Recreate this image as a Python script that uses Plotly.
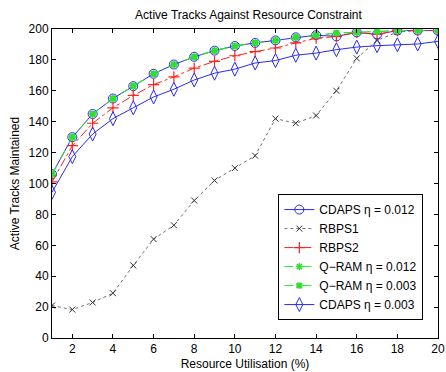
import plotly.graph_objects as go

x_vals = list(range(1, 21))
cdaps_012 = [106, 130, 145, 155, 163, 171, 177, 182, 186, 189, 191, 192.6, 194.6, 196, 195.2, 197.8, 196.5, 199, 199, 199]
rbps1 = [21, 18.4, 23, 29, 47, 64, 73, 89, 102, 110, 118, 142, 139, 144, 160, 181, 192.6, 198, 199, 199]
rbps2 = [101, 124.5, 139, 149, 157, 164, 169, 174.7, 179, 182.7, 185.3, 187.7, 191, 194, 195.2, 197.8, 196.5, 199, 199, 199]
qram_012 = [106, 130, 145, 155, 163, 171, 177, 182, 186, 189, 191, 192.6, 194.6, 196, 197.4, 197.8, 198.4, 199, 199, 199]
qram_003 = [106, 130, 145, 155, 163, 171, 177, 182, 186, 189, 191, 192.6, 194.6, 196, 197.4, 197.8, 198.4, 199, 199, 199]
cdaps_003 = [94.3, 117.4, 132, 142, 149, 156, 161, 167, 171.4, 174, 178, 179.6, 183, 184.4, 186.6, 188.3, 189.2, 189.8, 190.3, 192]

x_ticks = [2, 4, 6, 8, 10, 12, 14, 16, 18, 20]
y_ticks = [0, 20, 40, 60, 80, 100, 120, 140, 160, 180, 200]

BLUE = "#2a2af0"
RED = "#ff2020"
GREEN = "#30e030"
GRAY = "#707070"

fig = go.Figure()
fig.add_trace(go.Scatter(x=x_vals, y=cdaps_012, name="CDAPS η = 0.012", mode="lines+markers",
                         line=dict(color=BLUE, width=1),
                         marker=dict(symbol="circle-open", size=9, color=BLUE, line=dict(width=1))))
fig.add_trace(go.Scatter(x=x_vals, y=rbps1, name="RBPS1", mode="lines+markers",
                         line=dict(color=GRAY, width=1, dash="dot"),
                         marker=dict(symbol="x-thin-open", size=6, color="#303030", line=dict(width=1))))
fig.add_trace(go.Scatter(x=x_vals, y=rbps2, name="RBPS2", mode="lines+markers",
                         line=dict(color=RED, width=1, dash="dashdot"),
                         marker=dict(symbol="cross-thin-open", size=8, color=RED, line=dict(width=1.2))))
fig.add_trace(go.Scatter(x=x_vals, y=qram_012, name="Q\u2212RAM η = 0.012", mode="lines+markers",
                         line=dict(color=GREEN, width=1, dash="dash"),
                         marker=dict(symbol="asterisk-open", size=6, color=GREEN, line=dict(width=1.5))))
fig.add_trace(go.Scatter(x=x_vals, y=qram_003, name="Q\u2212RAM η = 0.003", mode="lines+markers",
                         line=dict(color=GREEN, width=1, dash="dash"),
                         marker=dict(symbol="square", size=5, color=GREEN, line=dict(width=1, color=GREEN))))
fig.add_trace(go.Scatter(x=x_vals, y=cdaps_003, name="CDAPS η = 0.003", mode="lines+markers",
                         line=dict(color=BLUE, width=1),
                         marker=dict(symbol="diamond-tall-open", size=10, color=BLUE, line=dict(width=1))))

font_family = "Liberation Sans, Arial, sans-serif"
fig.update_layout(
    width=446, height=372,
    margin=dict(l=52, r=1, t=29, b=34),
    paper_bgcolor="white", plot_bgcolor="white",
    font=dict(family=font_family, size=12, color="black"),
    title=dict(text="Active Tracks Against Resource Constraint", x=(52 + 445) / 2 / 446, xanchor="center",
               y=1 - 15 / 372, yanchor="middle", font=dict(size=12)),
    showlegend=True,
    legend=dict(x=0.962, xanchor="right", y=0.058, yanchor="bottom",
                bgcolor="white", bordercolor="black", borderwidth=1,
                font=dict(size=12), tracegroupgap=0, itemwidth=30),
)
fig.update_xaxes(range=[1, 20], tickvals=x_ticks, ticks="inside", ticklen=4, tickcolor="black",
                 showline=True, linecolor="black", linewidth=1, mirror="ticks", showgrid=False, zeroline=False,
                 ticklabeloverflow="allow",
                 title=dict(text="Resource Utilisation (%)", standoff=4, font=dict(size=12)),
                 tickfont=dict(size=12))
fig.update_yaxes(range=[0, 200], tickvals=y_ticks, ticks="inside", ticklen=4, tickcolor="black",
                 showline=True, linecolor="black", linewidth=1, mirror="ticks", showgrid=False, zeroline=False,
                 title=dict(text="Active Tracks Maintained", standoff=6, font=dict(size=12)),
                 tickfont=dict(size=12))

fig.write_html("out.html")
